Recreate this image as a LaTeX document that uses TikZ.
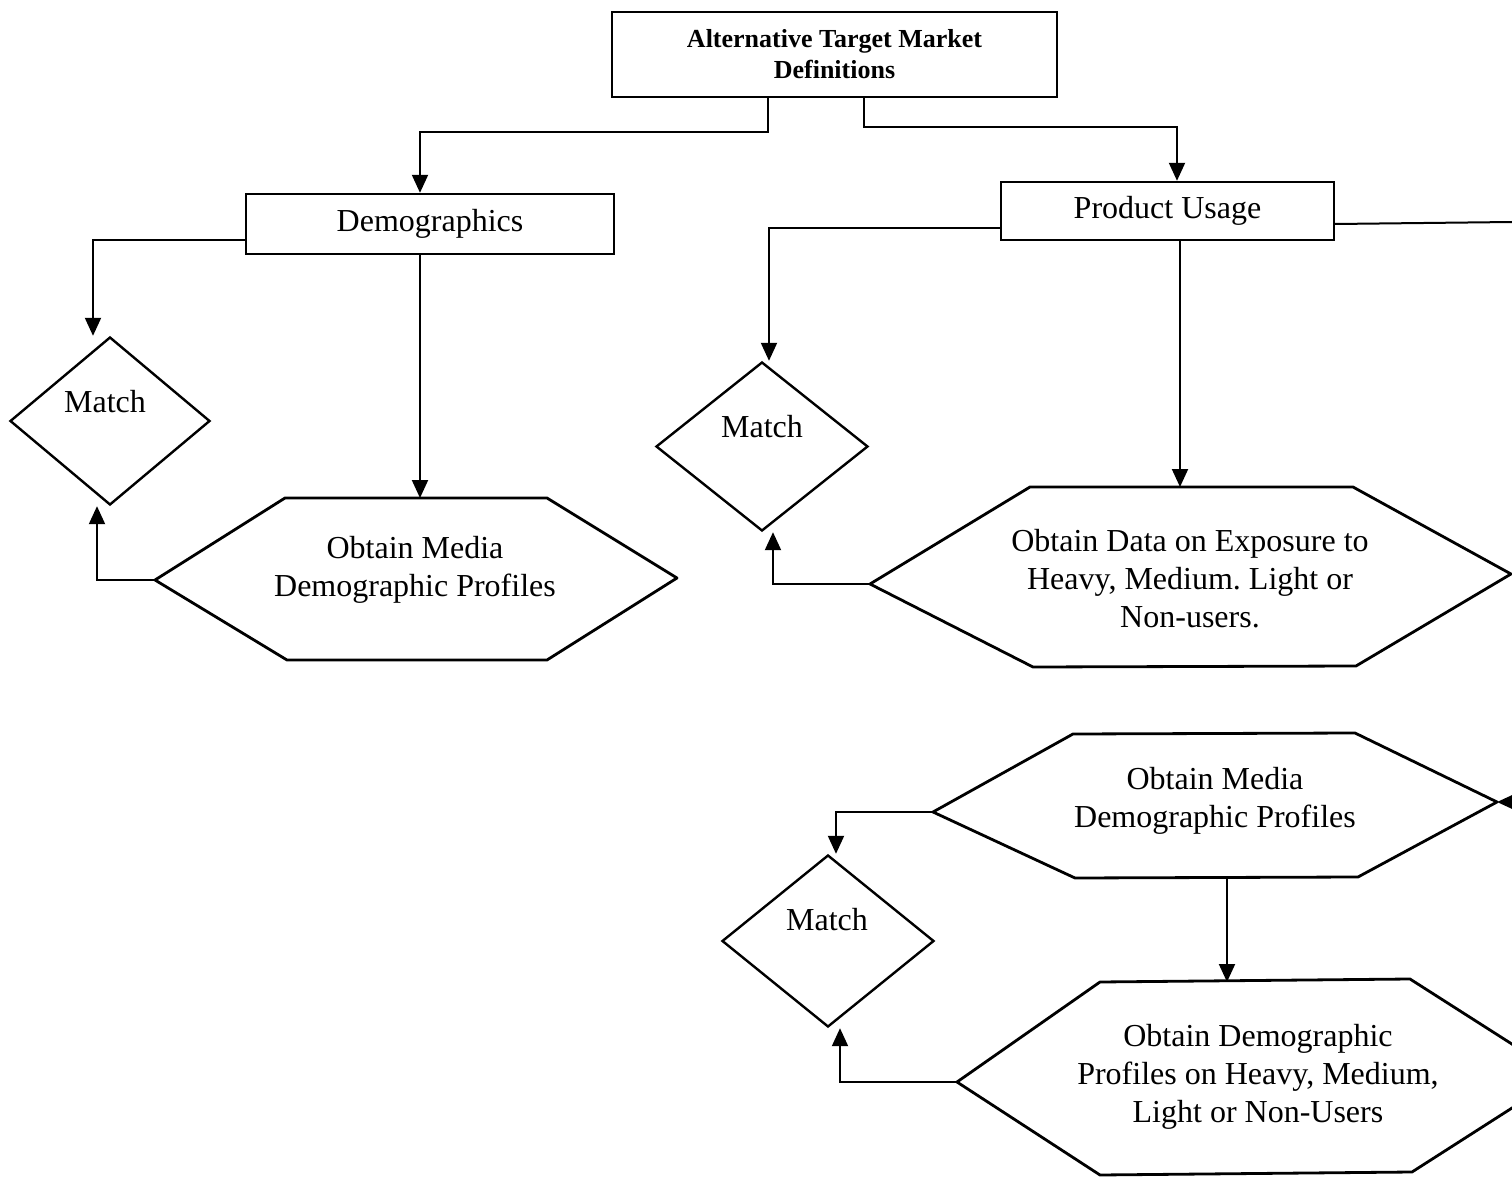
\documentclass[tikz,border=0pt]{standalone}
\usepackage{fontspec}
\setmainfont{Liberation Serif}
\usetikzlibrary{arrows.meta,shapes.geometric}
\frenchspacing
\begin{document}
\begin{tikzpicture}[x=0.5pt,y=-0.5pt,
  conn/.style={line width=1pt},
  arr/.style={line width=1pt,-{Triangle[length=9pt,width=8pt]}},
  boxnode/.style={draw,line width=1.2pt,rectangle,inner sep=0pt,align=center,font=\fontsize{16}{19}\selectfont},
  hexline/.style={line width=1.4pt,line join=round},
  hextext/.style={align=center,font=\fontsize{16}{19}\selectfont,inner sep=0pt},
  matchshape/.style={draw,diamond,line width=1.2pt,inner sep=0pt},
  matchtext/.style={font=\fontsize{16}{19}\selectfont,inner sep=0pt}]

\useasboundingbox (0,0) rectangle (1512,1177);
\clip (0,0) rectangle (1512,1177);

% boxes
\node[boxnode, minimum width=222.5pt, minimum height=42.5pt, font=\fontsize{13}{15.5}\selectfont\bfseries] (t) at (834.5,54.5) {Alternative Target Market\\Definitions};
\node[boxnode, minimum width=184pt, minimum height=30pt] (dm) at (430,224) {Demographics};
\node[boxnode, minimum width=166.5pt, minimum height=29pt] (pu) at (1167.5,211) {Product Usage};

% diamonds
\node[matchshape, minimum width=100pt, minimum height=84pt] (m1) at (110,421) {};
\node[matchtext] (m1t) at (105,402) {Match};
\node[matchshape, minimum width=106pt, minimum height=84.5pt] (m2) at (762,446.5) {};
\node[matchtext] (m2t) at (762,427) {Match};
\node[matchshape, minimum width=106pt, minimum height=86pt] (m3) at (828,941) {};
\node[matchtext] (m3t) at (827,920) {Match};

% hexagon 1
\coordinate (h1L) at (155,580);
\coordinate (h1TL) at (285,498);
\coordinate (h1TR) at (547,498);
\coordinate (h1R) at (677,578);
\coordinate (h1BR) at (547,660);
\coordinate (h1BL) at (287,660);
\coordinate (h1N) at (420,498);
\draw[hexline] (h1L) -- (h1TL) -- (h1TR) -- (h1R) -- (h1BR) -- (h1BL) -- cycle;
\node[hextext] (h1) at (415,570) {Obtain Media\\Demographic Profiles};

% hexagon 2
\coordinate (h2L) at (870,584);
\coordinate (h2TL) at (1030,487);
\coordinate (h2TR) at (1353,487);
\coordinate (h2R) at (1511,574);
\coordinate (h2BR) at (1356,666);
\coordinate (h2BL) at (1033,667);
\coordinate (h2N) at (1180,487);
\draw[hexline] (h2L) -- (h2TL) -- (h2TR) -- (h2R) -- (h2BR) -- (h2BL) -- cycle;
\node[hextext] (h2) at (1190,579) {Obtain Data on Exposure to\\Heavy, Medium. Light or\\Non-users.};

% hexagon 3
\coordinate (h3L) at (933,812);
\coordinate (h3TL) at (1073,734);
\coordinate (h3TR) at (1355,733);
\coordinate (h3R) at (1497,802);
\coordinate (h3BR) at (1358,877);
\coordinate (h3BL) at (1075,878);
\coordinate (h3S) at (1227,878);
\draw[hexline] (h3L) -- (h3TL) -- (h3TR) -- (h3R) -- (h3BR) -- (h3BL) -- cycle;
\node[hextext] (h3) at (1215,801) {Obtain Media\\Demographic Profiles};

% hexagon 4
\coordinate (h4L) at (957,1082);
\coordinate (h4TL) at (1100,982);
\coordinate (h4TR) at (1410,979);
\coordinate (h4R) at (1562,1076);
\coordinate (h4BR) at (1412,1172);
\coordinate (h4BL) at (1100,1175);
\coordinate (h4N) at (1227,982);
\draw[hexline] (h4L) -- (h4TL) -- (h4TR) -- (h4R) -- (h4BR) -- (h4BL) -- cycle;
\node[hextext] (h4) at (1258,1077) {Obtain Demographic\\Profiles on Heavy, Medium,\\Light or Non-Users};

% free ends
\coordinate (pr) at (1512,222);
\coordinate (h3in) at (1520,802);

% connectors
\draw[arr] ([xshift=-33.25pt]t.south) -- ++(0,-17pt) -| ([xshift=-5pt]dm.north);
\draw[arr] ([xshift=14.75pt]t.south) -- ++(0,-14.5pt) -| ([xshift=4.75pt]pu.north);
\draw[arr] ([yshift=-8pt]dm.west) -| ([xshift=-8.5pt]m1.north);
\draw[arr] ([xshift=-5pt]dm.south) -- (h1N);
\draw[arr] (h1L) -| ([xshift=-6.5pt]m1.south);
\draw[arr] ([yshift=-8.5pt]pu.west) -| ([xshift=3.5pt]m2.north);
\draw[arr] ([xshift=6.25pt]pu.south) -- (h2N);
\draw[arr] (h2L) -| ([xshift=5.5pt]m2.south);
\draw[conn] ([yshift=-6.5pt]pu.east) -- (pr);
\draw[arr] (h3in) -- (h3R);
\draw[arr] (h3L) -| ([xshift=4pt]m3.north);
\draw[arr] (h3S) -- (h4N);
\draw[arr] (h4L) -| ([xshift=6pt]m3.south);
\end{tikzpicture}
\end{document}
